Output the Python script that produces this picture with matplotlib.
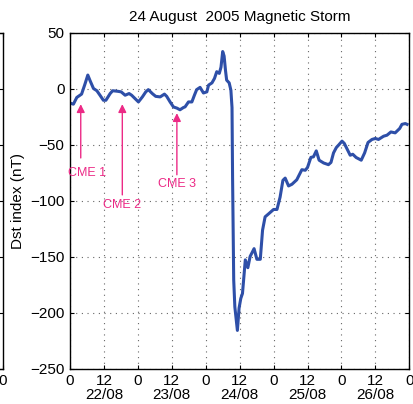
import numpy as np
import matplotlib
matplotlib.use('Agg')
import matplotlib.pyplot as plt

plt.rcParams['font.family'] = ['Liberation Sans', 'DejaVu Sans']

# hours since 00 UT 21/08/2005, Dst in nT
hours = [0.0, 1.2, 2.4, 4.1, 5.3, 6.3, 7.1, 8.3, 9.5, 10.6, 11.8, 12.7, 14.2, 15.1,
         16.9, 18.1, 19.5, 20.9, 21.8, 23.0, 24.2, 25.6, 26.8, 27.7, 29.1, 30.3,
         31.9, 33.4, 34.2, 35.4, 36.6, 37.8, 38.9, 40.1, 40.7, 41.9, 43.1, 44.0,
         44.8, 46.0, 47.2, 48.4, 49.0, 50.2, 51.1, 51.9, 52.8, 53.4, 54.0, 54.5,
         55.0, 55.4, 56.3, 56.9, 57.3, 57.5, 57.9, 58.3, 59.2, 59.8, 60.4, 61.0,
         62.0, 62.9, 63.7, 65.1, 66.1, 67.3, 68.1, 69.0, 70.2, 72.0, 73.2, 74.3,
         75.3, 76.1, 77.3, 78.5, 80.2, 82.0, 83.2, 84.0, 85.2, 86.1, 87.1, 88.1,
         89.7, 91.4, 92.3, 93.2, 94.2, 95.0, 96.2, 97.0, 99.1, 100.0, 101.2, 103.0,
         104.2, 105.4, 106.8, 108.0, 109.1, 110.9, 112.1, 113.5, 115.0, 116.6,
         117.4, 118.6, 119.2]
dst = [-13, -14, -8, -5, 4, 12, 7, 0, -2, -6, -10.5, -10.5, -4.5, -2,
       -2.5, -3, -6, -4.5, -6, -9, -12, -7.5, -3, -1, -4.5, -7,
       -7.5, -5, -7, -12, -16.5, -17.5, -19, -17, -16.4, -12, -12, -6,
       -1, 1, -4, -3, 3, 5, 9, 15, 13.5, 19, 33, 29,
       16, 7.5, 5, -1.5, -17, -80, -171, -195, -216, -196, -187.5, -183,
       -153, -160, -150, -143, -152.5, -152.5, -126.5, -114.6, -112, -108, -108, -97,
       -82, -80, -87, -85.5, -81.5, -72.5, -73, -70.5, -61.5, -61, -55.7, -64,
       -66.5, -68, -66, -57.5, -52.7, -50.5, -47, -49, -59.6, -58.7, -61.6, -64,
       -57.5, -48.2, -45.5, -44.6, -45.5, -42.6, -41.7, -38.8, -39.6, -35.7,
       -32, -31.3, -32]

xticks = np.arange(0, 121, 12)
dates = ['22/08', '23/08', '24/08', '25/08', '26/08']
yticks = [50, 0, -50, -100, -150, -200, -250]

# CME markers
cme_names = ['CME 1', 'CME 2', 'CME 3']
cme_hour = [3.8, 18.5, 37.8]
cme_tip = [-14, -14, -22]
cme_tail = [-62, -95, -77]
cme_text_x = [6.0, 18.3, 37.8]
cme_text_y = [-75, -104, -85]

pink = '#EC2A86'
blue = '#2E4FA8'

W, H = 414, 404
fig = plt.figure(figsize=(W/100., H/100.), dpi=100)

def tick_labels():
    labs = []
    for h in xticks:
        if h % 24 == 12:
            labs.append('12\n' + dates[int(h)//24])
        else:
            labs.append('0')
    return labs

def style(ax):
    ax.set_xlim(0, 120)
    ax.set_ylim(-250, 50)
    ax.set_yticks(yticks)
    ax.tick_params(direction='in', length=3, width=0.8, labelsize=11, pad=4,
                   top=True, right=True)
    for s in ax.spines.values():
        s.set_linewidth(1.0)

# piece of the neighbouring panel at the far left
ax0 = fig.add_axes([3./W - 0.8, 1 - 368.5/H, 0.8, (368.5-32.5)/H])
style(ax0)
ax0.set_xticks([120])
ax0.set_xticklabels(['0'])
ax0.set_yticklabels([])

ax = fig.add_axes([70./W, 1 - 368.5/H, (409.3-70.)/W, (368.5-32.5)/H])
style(ax)
ax.set_xticks(xticks)
ax.set_xticklabels(tick_labels(), linespacing=0.95)
ax.grid(True, ls=(0, (1, 4.1)), color='#666666', lw=0.8)
ax.plot(hours, dst, color=blue, lw=2.2, solid_joinstyle='round')

for i in range(len(cme_names)):
    ax.annotate('', xy=(cme_hour[i], cme_tip[i]), xytext=(cme_hour[i], cme_tail[i]),
                arrowprops=dict(arrowstyle='-|>', color=pink, lw=1.0,
                                mutation_scale=12, shrinkA=0, shrinkB=0))
    ax.text(cme_text_x[i], cme_text_y[i], cme_names[i], color=pink, fontsize=9,
            ha='center', va='center')

ax.set_ylabel('Dst index (nT)', fontsize=11, labelpad=4)
ax.set_title('24 August  2005 Magnetic Storm', fontsize=11, pad=8)

fig.savefig('out.png', dpi=100)
